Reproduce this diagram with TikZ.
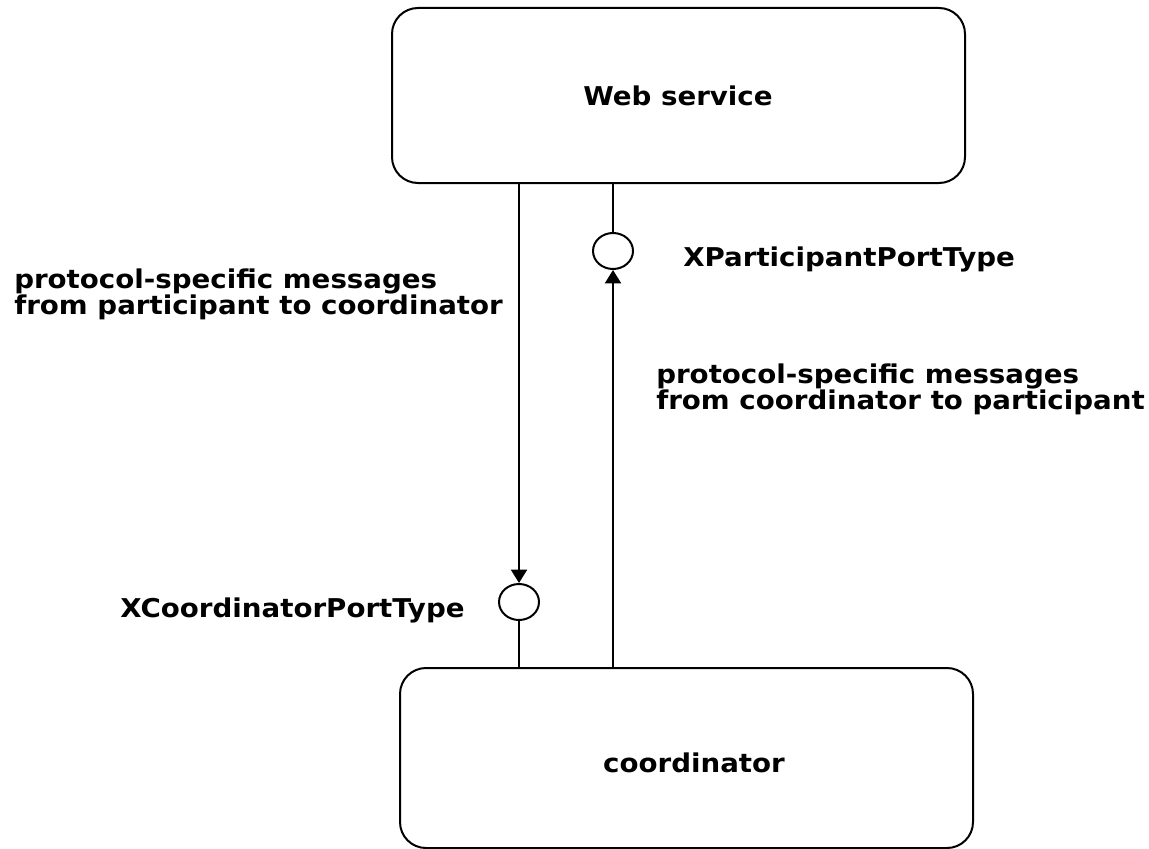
\documentclass[tikz,border=0pt]{standalone}
\usepackage{fontspec}
\setmainfont{DejaVu Sans}[FakeStretch=1.07]
\usetikzlibrary{shapes.geometric,arrows.meta}
\begin{document}
\begin{tikzpicture}[x=0.75pt,y=-0.75pt,
  box/.style={draw,line width=1.5pt,rounded corners=19.5pt,minimum width=429.75pt,inner sep=0pt},
  port/.style={draw,line width=1.5pt,ellipse,minimum width=30pt,minimum height=27pt,inner sep=0pt},
  lbl/.style={inner sep=0pt,font=\fontsize{19.4}{24}\selectfont\bfseries},
  conn/.style={line width=1.5pt},
  arr/.style={conn,-{Triangle[length=10pt,width=12pt]}}]
\path[use as bounding box] (0,0) rectangle (1149,849);
% boxes
\node[box,minimum height=131.25pt] (web) at (678.5,95.5) {};
\node[box,minimum height=135pt] (coord) at (686.5,758) {};
\node[lbl,anchor=base] (webtxt) at (678,105) {Web service};
\node[lbl,anchor=base] (coordtxt) at (694,772) {coordinator};
% ports
\node[port] (circP) at (613,251) {};
\node[port] (circC) at (519,602) {};
% port labels
\node[lbl,anchor=base west] (pP) at (683,266) {XParticipantPortType};
\node[lbl,anchor=base west] (pC) at (120,617) {XCoordinatorPortType};
% message labels
\node[lbl,anchor=base west] (m1a) at (14,288) {protocol-specific messages};
\node[lbl,anchor=base west] (m1b) at (14,314) {from participant to coordinator};
\node[lbl,anchor=base west] (m2a) at (656,383) {protocol-specific messages};
\node[lbl,anchor=base west] (m2b) at (656,409) {from coordinator to participant};
% connectors
\draw[arr] (circC |- web.south) -- (circC.north);
\draw[conn] (circC.south) -- (circC |- coord.north);
\draw[conn] (circP |- web.south) -- (circP.north);
\draw[arr] (circP |- coord.north) -- (circP.south);
\end{tikzpicture}
\end{document}
